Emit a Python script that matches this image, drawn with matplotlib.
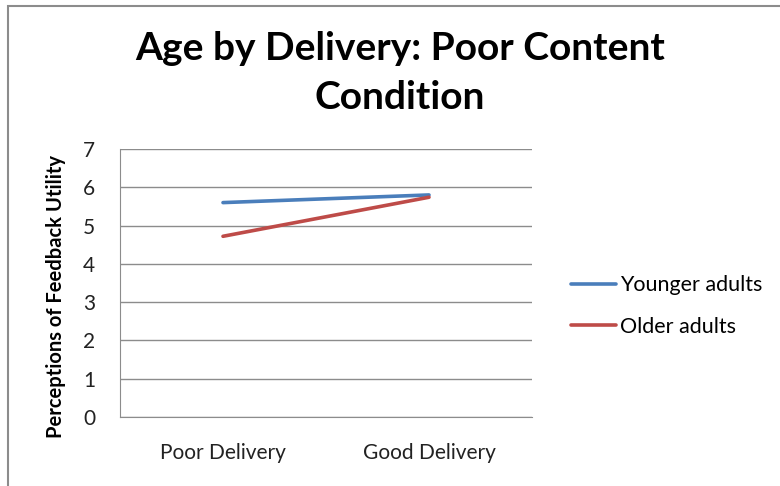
import matplotlib.pyplot as plt
from matplotlib.patches import Rectangle

categories = ["Poor Delivery", "Good Delivery"]
younger = [5.6, 5.8]
older = [4.72, 5.74]

plt.rcParams['font.family'] = ['Lato', 'DejaVu Sans']

fig = plt.figure(figsize=(7.8, 4.86), dpi=100)
# outer chart border (Excel style, cropped at right/bottom)
fig.patches.append(Rectangle((8 / 780, -0.1), 1.2, 1 - 6 / 486 + 0.1,
                             transform=fig.transFigure, fill=False,
                             edgecolor="#8c8c8c", linewidth=1.5))

ax = fig.add_axes([120 / 780, 1 - 417 / 486, 412 / 780, 268 / 486])
x = range(len(categories))
ax.plot(x, younger, color="#4a7ebb", linewidth=2.6, label="Younger adults",
        solid_capstyle="round")
ax.plot(x, older, color="#be4b48", linewidth=2.6, label="Older adults",
        solid_capstyle="round")

ax.set_xlim(-0.5, 1.5)
ax.set_ylim(0, 7)
ax.set_yticks(range(0, 8))
ax.set_xticks(list(x))
ax.set_xticklabels(categories)
ax.yaxis.grid(True, color="#8c8c8c", linewidth=1)
ax.set_axisbelow(True)
for s in ["top", "right"]:
    ax.spines[s].set_visible(False)
for s in ["left", "bottom"]:
    ax.spines[s].set_color("#8c8c8c")
ax.tick_params(axis="both", length=0, labelsize=15, colors="#222222")
ax.tick_params(axis="y", pad=18)
ax.tick_params(axis="x", pad=19)

ax.set_ylabel("Perceptions of Feedback Utility", fontsize=14.5,
              fontweight="bold")
ax.yaxis.set_label_coords(-0.131, 0.45)

fig.text(400 / 780, 1 - 48 / 486, "Age by Delivery: Poor Content", ha="center",
         va="center", fontsize=28, fontweight="bold")
fig.text(400 / 780, 1 - 97 / 486, "Condition", ha="center", va="center",
         fontsize=28, fontweight="bold")

fig.legend(loc="center left", bbox_to_anchor=(552 / 780, 1 - 306 / 486),
           frameon=False, fontsize=15.5, handlelength=2.05, handletextpad=0.2,
           labelspacing=1.0)

fig.savefig("out.png", dpi=100)
